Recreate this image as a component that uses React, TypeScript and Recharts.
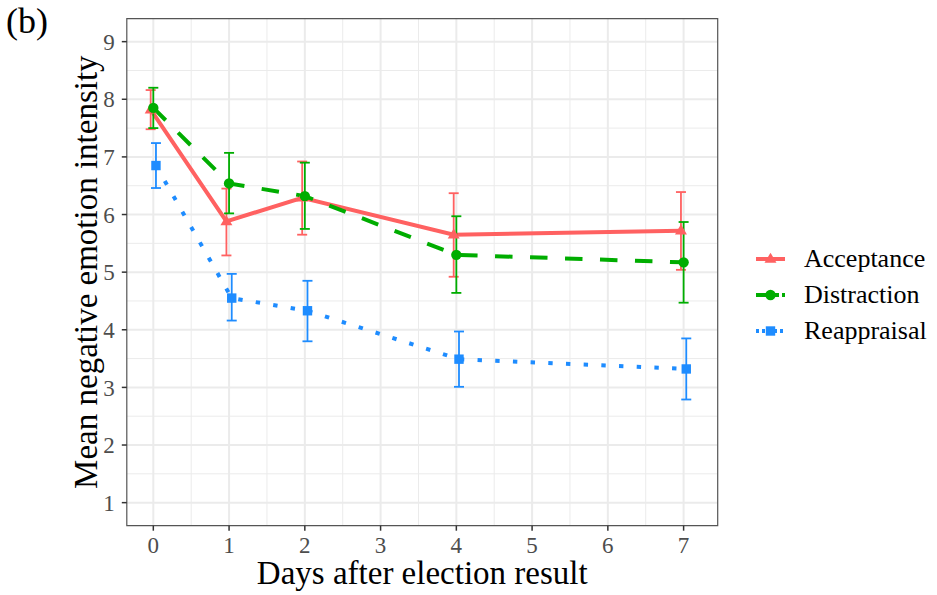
import React from 'react'
import { LineChart, Line, XAxis, YAxis, CartesianGrid, ErrorBar, ReferenceArea } from 'recharts'

const days = [0, 1, 2, 4, 7]

const acceptMean = [7.82, 5.88, 6.29, 5.65, 5.72]
const acceptLow = [7.48, 5.29, 5.65, 4.92, 5.04]
const acceptHigh = [8.16, 6.45, 6.92, 6.37, 6.39]

const distMean = [7.85, 6.54, 6.32, 5.3, 5.17]
const distLow = [7.5, 6.02, 5.75, 4.64, 4.47]
const distHigh = [8.2, 7.07, 6.9, 5.97, 5.87]

const reapMean = [6.85, 4.55, 4.33, 3.49, 3.32]
const reapLow = [6.46, 4.16, 3.8, 3.01, 2.79]
const reapHigh = [7.24, 4.97, 4.85, 3.97, 3.85]

const xTicks = [0, 1, 2, 3, 4, 5, 6, 7]
const xMinor = [0.5, 1.5, 2.5, 3.5, 4.5, 5.5, 6.5]
const yTicks = [1, 2, 3, 4, 5, 6, 7, 8, 9]
const yMinor = [1.5, 2.5, 3.5, 4.5, 5.5, 6.5, 7.5, 8.5]

const X_DOMAIN = [-0.35, 7.45]
const Y_DOMAIN = [0.6, 9.4]
const FONT = '"Liberation Serif", "Times New Roman", serif'

type Shape = 'triangle' | 'circle' | 'square'

function build(mean: number[], low: number[], high: number[], dodge: number) {
  return days.map((d, i) => ({
    x: d + dodge,
    y: mean[i],
    err: [mean[i] - low[i], high[i] - mean[i]],
  }))
}

const series = [
  { name: 'Acceptance', color: '#FF6161', shape: 'triangle' as Shape, dash: undefined, data: build(acceptMean, acceptLow, acceptHigh, -0.035) },
  { name: 'Distraction', color: '#00AD00', shape: 'circle' as Shape, dash: '17.5 17.5', data: build(distMean, distLow, distHigh, 0) },
  { name: 'Reappraisal', color: '#1E8CFF', shape: 'square' as Shape, dash: '4.4 13.3', data: build(reapMean, reapLow, reapHigh, 0.035) },
]

function Marker({ cx, cy, shape, color }: { cx: number, cy: number, shape: Shape, color: string }) {
  if (cx == null || cy == null) return null
  if (shape === 'circle') return <circle cx={cx} cy={cy} r={5.2} fill={color} />
  if (shape === 'square') return <rect x={cx - 4.7} y={cy - 4.7} width={9.4} height={9.4} fill={color} />
  const r = 6.3
  return <polygon points={`${cx},${cy - r} ${cx + r * 0.95},${cy + r * 0.6} ${cx - r * 0.95},${cy + r * 0.6}`} fill={color} />
}

function LegendBox() {
  return (
    <div style={{ position: 'absolute', left: 754, top: 241, fontFamily: FONT, fontSize: 26, color: '#000' }}>
      {series.map(s => (
        <div key={s.name} style={{ display: 'flex', alignItems: 'center', height: 36 }}>
          <svg width={50} height={20} style={{ display: 'block' }}>
            <line x1={2} x2={31} y1={10} y2={10} stroke={s.color} strokeWidth={4} strokeDasharray={s.dash ? (s.shape === 'square' ? '3 3' : '10 3') : undefined} />
            <Marker cx={16.5} cy={10} shape={s.shape} color={s.color} />
          </svg>
          <span>{s.name}</span>
        </div>
      ))}
    </div>
  )
}

export default function App() {
  return (
    <div style={{ position: 'absolute', left: 0, top: 0, width: 937, height: 595, background: '#fff' }}>
      <div style={{ position: 'absolute', left: 6, top: 0, fontFamily: FONT, fontSize: 36 }}>(b)</div>
      <LineChart width={937} height={595} margin={{ top: 18.6, right: 219.3, bottom: 19.3, left: 66.8 }}>
        <CartesianGrid stroke="#EBEBEB" strokeWidth={1} verticalValues={xMinor} horizontalValues={yMinor} />
        <CartesianGrid stroke="#EBEBEB" strokeWidth={2} verticalValues={xTicks} horizontalValues={yTicks} />
        <XAxis
          type="number"
          dataKey="x"
          domain={X_DOMAIN}
          ticks={xTicks}
          allowDataOverflow
          axisLine={false}
          tickLine={{ stroke: '#333', strokeWidth: 1.5 }}
          tickSize={5}
          tickMargin={6}
          height={50}
          tick={{ fontFamily: FONT, fontSize: 23, fill: '#4D4D4D' }}
          label={{ value: 'Days after election result', position: 'insideBottom', offset: -8, style: { fontFamily: FONT, fontSize: 33, fill: '#000' } }}
        />
        <YAxis
          type="number"
          domain={Y_DOMAIN}
          ticks={yTicks}
          allowDataOverflow
          axisLine={false}
          tickLine={{ stroke: '#333', strokeWidth: 1.5 }}
          tickSize={5}
          tickMargin={7}
          width={60}
          tick={{ fontFamily: FONT, fontSize: 23, fill: '#4D4D4D' }}
          label={({ viewBox }: any) => (
            <text
              x={86}
              y={viewBox.y + viewBox.height / 2}
              transform={`rotate(-90, 86, ${viewBox.y + viewBox.height / 2})`}
              textAnchor="middle"
              dominantBaseline="central"
              style={{ fontFamily: FONT, fontSize: 33, fill: '#000' }}
            >
              Mean negative emotion intensity
            </text>
          )}
        />
        <ReferenceArea x1={X_DOMAIN[0]} x2={X_DOMAIN[1]} y1={Y_DOMAIN[0]} y2={Y_DOMAIN[1]} fill="none" stroke="#555" strokeWidth={1.2} />
        {series.map(s => (
          <Line
            key={s.name}
            data={s.data}
            dataKey="y"
            name={s.name}
            stroke={s.color}
            strokeWidth={4}
            strokeDasharray={s.dash}
            isAnimationActive={false}
            dot={(p: any) => <Marker key={`${s.name}-${p.index}`} cx={p.cx} cy={p.cy} shape={s.shape} color={s.color} />}
            activeDot={false}
          >
            <ErrorBar dataKey="err" direction="y" width={5} stroke={s.color} strokeWidth={1.8} isAnimationActive={false} />
          </Line>
        ))}
      </LineChart>
      <LegendBox />
    </div>
  )
}
